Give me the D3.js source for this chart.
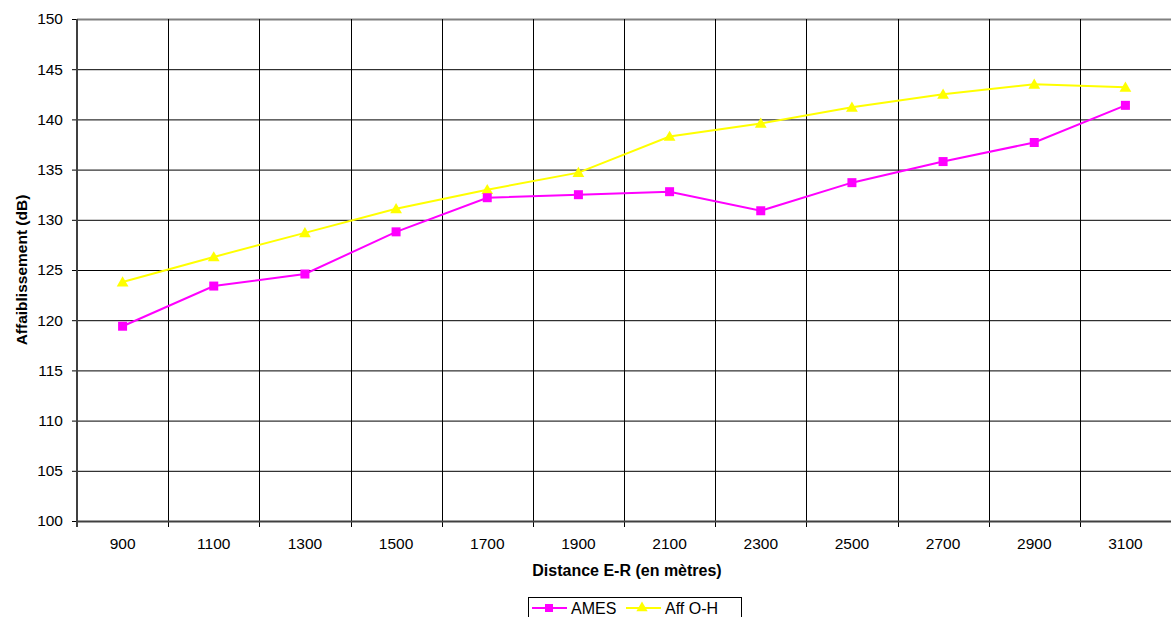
<!DOCTYPE html>
<meta charset="utf-8">
<style>
  body { margin: 0; background: #fff; }
  text { font-family: "Liberation Sans", Arial, sans-serif; }
</style>
<body>
<div id="graph"></div>
<script src="https://d3js.org/d3.v7.min.js"></script>
<script>
  // data
  var distances = [900, 1100, 1300, 1500, 1700, 1900, 2100, 2300, 2500, 2700, 2900, 3100];
  var ames = [119.4, 123.4, 124.6, 128.8, 132.2, 132.5, 132.8, 130.9, 133.7, 135.8, 137.7, 141.4];
  var affOH = [123.8, 126.3, 128.7, 131.1, 133.0, 134.7, 138.3, 139.6, 141.2, 142.5, 143.5, 143.2];
  var yTicks = [100, 105, 110, 115, 120, 125, 130, 135, 140, 145, 150];

  var margin = { top: 19, right: 0, bottom: 96, left: 77 },
    width = 1171 - margin.left - margin.right,
    height = 617 - margin.top - margin.bottom;

  var fs = "15.5px";

  var svg = d3.select("#graph").append("svg")
    .attr("width", 1171)
    .attr("height", 617);

  var g = svg.append("g")
    .attr("transform", "translate(" + margin.left + "," + margin.top + ")");

  var x = d3.scaleBand().domain(distances).range([0, width]);
  var y = d3.scaleLinear().domain([100, 150]).range([height, 0]);

  // horizontal gridlines
  g.selectAll(".hgrid")
    .data(yTicks)
    .enter().append("line")
    .attr("x1", 0).attr("x2", width)
    .attr("y1", function(d) { return y(d) + 0.5; })
    .attr("y2", function(d) { return y(d) + 0.5; })
    .attr("stroke", function(d) { return d == 150 ? "#808080" : "#000"; })
    .attr("stroke-width", function(d) { return d == 150 ? 2 : 1; });

  // vertical gridlines at band boundaries (with ticks below)
  var bounds = distances.slice(1).map(function(d) { return Math.round(x(d)) + 0.5; });
  g.selectAll(".vgrid")
    .data(bounds)
    .enter().append("line")
    .attr("x1", function(d) { return d; })
    .attr("x2", function(d) { return d; })
    .attr("y1", 0).attr("y2", height + 6)
    .attr("stroke", "#000");

  // y axis
  var yAxis = d3.axisLeft(y).tickValues(yTicks).tickSize(5).tickPadding(9);
  var ya = g.append("g").call(yAxis);
  ya.select(".domain").remove();
  ya.selectAll(".tick line").attr("stroke", "#000");
  ya.selectAll("text").style("font-size", fs).attr("fill", "#000");
  g.append("line")
    .attr("x1", 0).attr("x2", 0).attr("y1", 0).attr("y2", height + 6)
    .attr("stroke", "#404040").attr("stroke-width", 2);
  g.append("line")
    .attr("x1", 0).attr("x2", width).attr("y1", height + 0.5).attr("y2", height + 0.5)
    .attr("stroke", "#404040").attr("stroke-width", 2);

  // x axis labels
  var xAxis = d3.axisBottom(x).tickSize(0).tickPadding(17);
  var xa = g.append("g").attr("transform", "translate(0," + height + ")").call(xAxis);
  xa.select(".domain").remove();
  xa.selectAll("text").style("font-size", fs).attr("fill", "#000");

  // axis titles
  svg.append("text")
    .attr("x", margin.left + width / 2 + 3)
    .attr("y", 576)
    .attr("text-anchor", "middle")
    .style("font-size", "16px").style("font-weight", "bold")
    .text("Distance E-R (en mètres)");

  svg.append("text")
    .attr("transform", "translate(27," + (margin.top + height / 2) + ") rotate(-90)")
    .attr("text-anchor", "middle")
    .style("font-size", fs).style("font-weight", "bold")
    .text("Affaiblissement (dB)");

  var cx = function(d, i) { return x(distances[i]) + x.bandwidth() / 2; };
  var line = d3.line()
    .x(function(d, i) { return cx(d, i); })
    .y(function(d) { return y(d); });

  // Aff O-H series
  g.append("path").datum(affOH)
    .attr("fill", "none").attr("stroke", "#ffff00").attr("stroke-width", 2)
    .attr("d", line);
  g.selectAll(".tri")
    .data(affOH)
    .enter().append("path")
    .attr("d", d3.symbol().type(d3.symbolTriangle).size(60))
    .attr("transform", function(d, i) { return "translate(" + cx(d, i) + "," + (y(d) + 1) + ")"; })
    .attr("fill", "#ffff00");

  // AMES series
  g.append("path").datum(ames)
    .attr("fill", "none").attr("stroke", "#ff00ff").attr("stroke-width", 2)
    .attr("d", line);
  g.selectAll(".sq")
    .data(ames)
    .enter().append("rect")
    .attr("x", function(d, i) { return cx(d, i) - 4.5; })
    .attr("y", function(d) { return y(d) - 4.5; })
    .attr("width", 9).attr("height", 9)
    .attr("fill", "#ff00ff");

  // legend
  var lg = svg.append("g").attr("transform", "translate(528,597)");
  lg.append("rect")
    .attr("x", 0.5).attr("y", 0.5).attr("width", 213).attr("height", 26)
    .attr("fill", "#fff").attr("stroke", "#000");
  var items = [
    { name: "AMES", color: "#ff00ff", shape: "sq", x: 4 },
    { name: "Aff O-H", color: "#ffff00", shape: "tri", x: 98 }
  ];
  items.forEach(function(it) {
    var gi = lg.append("g").attr("transform", "translate(" + it.x + ",0)");
    gi.append("line").attr("x1", 0).attr("x2", 35).attr("y1", 11).attr("y2", 11)
      .attr("stroke", it.color).attr("stroke-width", 2);
    if (it.shape == "sq") {
      gi.append("rect").attr("x", 13).attr("y", 7).attr("width", 8).attr("height", 8).attr("fill", it.color);
    } else {
      gi.append("path").attr("d", d3.symbol().type(d3.symbolTriangle).size(55))
        .attr("transform", "translate(16,11)").attr("fill", it.color);
    }
    gi.append("text").attr("x", 39).attr("y", 17)
      .style("font-size", "16px").text(it.name);
  });
</script>
</body>
